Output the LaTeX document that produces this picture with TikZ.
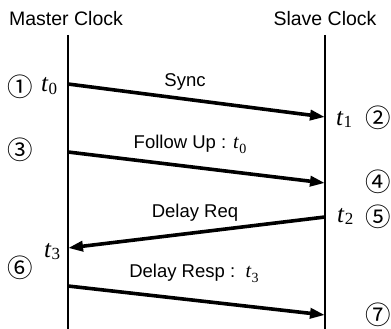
\documentclass[tikz,border=0pt]{standalone}
\usepackage{fontspec}
\setmainfont{Liberation Sans}
\newfontfamily\timesfont{Liberation Serif}
\newfontfamily\circfont{Noto Sans CJK JP}
\usetikzlibrary{arrows.meta}
% italic time stamp t with an upright subscript
\newcommand\tstamp[3]{{\fontsize{#2}{#2}\selectfont\timesfont\itshape t}\kern0.6pt\raisebox{-0.28em}{\fontsize{#3}{#3}\selectfont\timesfont #1}}
\begin{document}
\begin{tikzpicture}[x=1pt,y=-1pt,
  lifeline/.style={line width=1.4pt},
  msg/.style={line width=3.6pt, -{Triangle[length=15pt,width=10pt]}},
  title/.style={font=\fontsize{19.5}{20}\selectfont, anchor=base, inner sep=0pt},
  msglabel/.style={font=\fontsize{18.5}{20}\selectfont, anchor=base, inner sep=0pt},
  stamp/.style={anchor=base west, inner sep=0pt},
  stepnum/.style={font=\circfont\fontsize{25.5}{25.5}\selectfont, inner sep=0pt}]
\useasboundingbox (0,0) rectangle (391,329);

% clock titles
\node[title] (master) at (66,26) {Master Clock};
\node[title] (slave) at (325,26) {Slave Clock};

% lifelines
\coordinate (mtop) at (68,35);
\coordinate (mbot) at (68,329);
\coordinate (stop) at (325,35);
\coordinate (sbot) at (325,329);
\draw[lifeline] (mtop) -- (mbot);
\draw[lifeline] (stop) -- (sbot);

% message end points
\coordinate (m0) at (68,84);
\coordinate (s1) at (325,117);
\coordinate (m3) at (68,152);
\coordinate (s4) at (325,183);
\coordinate (s5) at (325,217);
\coordinate (m6) at (68,248);
\coordinate (m7) at (68,286);
\coordinate (s7) at (325,315);

% messages
\draw[msg] (m0) -- (s1);
\draw[msg] (m3) -- (s4);
\draw[msg] (s5) -- (m6);
\draw[msg] (m7) -- (s7);

% message labels
\node[msglabel] (lsync) at (185,87) {Sync};
\node[msglabel] (lfollow) at (190,148) {Follow Up : \tstamp{0}{20}{14}};
\node[msglabel] (lreq) at (195,217) {Delay Req};
\node[msglabel] (lresp) at (194,277) {Delay Resp :\ \ \tstamp{3}{20}{14}};

% time stamps
\node[stamp] (t0) at (41,92) {\tstamp{0}{25}{17}};
\node[stamp] (t1) at (336,125) {\tstamp{1}{25}{17}};
\node[stamp] (t2) at (337,222) {\tstamp{2}{25}{17}};
\node[stamp] (t3) at (44,257) {\tstamp{3}{25}{17}};

% step numbers
\node[stepnum] (n1) at (20,87) {①};
\node[stepnum] (n2) at (378,118) {②};
\node[stepnum] (n3) at (20,150) {③};
\node[stepnum] (n4) at (378,182) {④};
\node[stepnum] (n5) at (378,217) {⑤};
\node[stepnum] (n6) at (20,268) {⑥};
\node[stepnum] (n7) at (378,315) {⑦};
\end{tikzpicture}
\end{document}
